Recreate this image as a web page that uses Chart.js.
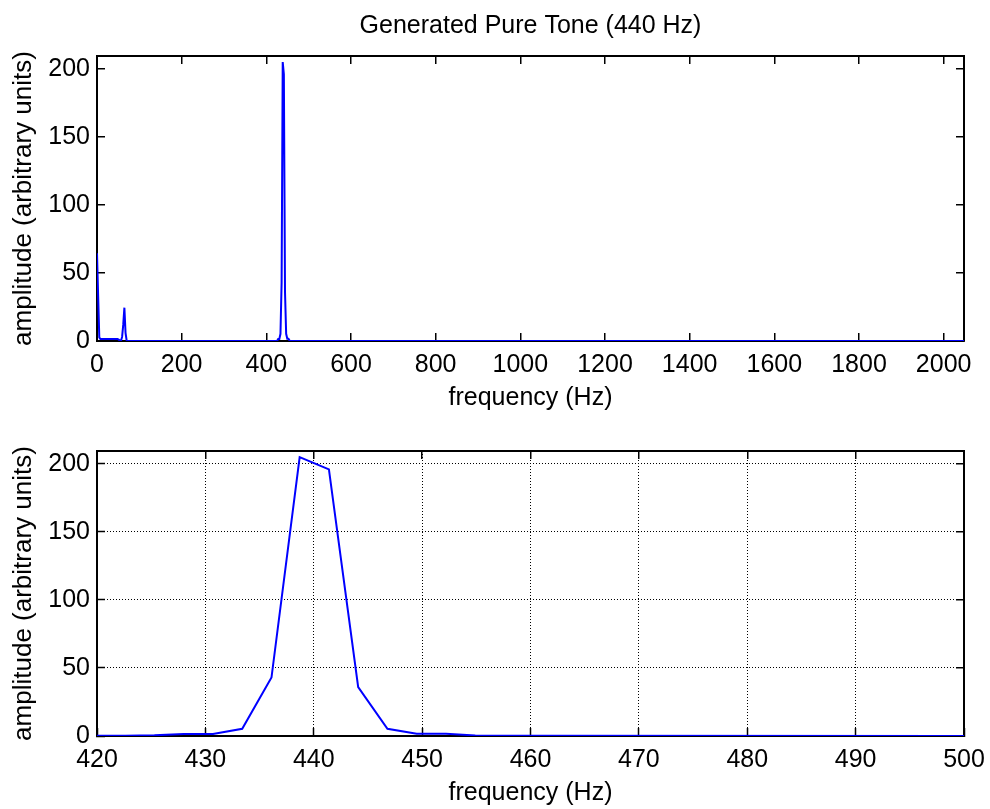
<!DOCTYPE html>
<html>
<head>
<meta charset="utf-8">
<script src="https://cdn.jsdelivr.net/npm/chart.js@4/dist/chart.umd.min.js"></script>
<style>
  html, body { margin: 0; padding: 0; background: #fff; overflow: hidden; }
  #wrap { position: relative; width: 990px; height: 809px; }
  canvas { position: absolute; left: 0; }
  #c1 { top: 0; }
  #c2 { top: 395px; }
</style>
</head>
<body>
<div id="wrap">
  <canvas id="c1" width="990" height="414"></canvas>
  <canvas id="c2" width="990" height="414"></canvas>
</div>
<script>
// ---- Data ----
const chartTitle = 'Generated Pure Tone (440 Hz)';
const xAxisLabel = 'frequency (Hz)';
const yAxisLabel = 'amplitude (arbitrary units)';

// Full spectrum (top panel)
const topFreq = [0, 2.7, 5.4, 8.1, 48.5, 51.2, 53.9, 56.6, 59.3, 62.0, 64.7, 67.4, 70.1, 72.8,
                 425.3, 428.0, 430.7, 433.4, 436.1, 438.7, 441.4, 444.1, 446.8, 449.5, 452.2, 454.9, 457.6, 2048];
const topAmp  = [64.5, 33, 2.7, 1.5, 1.5, 1.0, 0.3, 0.2, 3, 12, 24.5, 6, 0.2, 0,
                 0, 1.5, 1.5, 5.3, 43, 205, 196, 36, 5.3, 1.7, 1.7, 0.3, 0, 0];

// Zoomed spectrum 420-500 Hz (bottom panel)
const botFreq = [417.2, 419.9, 422.6, 425.3, 428.0, 430.7, 433.4, 436.1, 438.7, 441.4,
                 444.1, 446.8, 449.5, 452.2, 454.9, 457.6, 460.3, 500.7];
const botAmp  = [0.1, 0.1, 0.2, 0.5, 1.5, 1.5, 5.3, 43, 205, 196,
                 36, 5.3, 1.7, 1.7, 0.4, 0.2, 0.1, 0];

// Axis ranges / ticks
const topXRange = [0, 2048];   const topXStep = 200;
const botXRange = [420, 500];  const botXStep = 10;
const yRange = [0, 209.5];     const yStep = 50;

// ---- Styling ----
const FONT = { family: '"Liberation Sans", Arial, Helvetica, sans-serif', size: 25 };
const YLABEL_SIZE = 26;
Chart.defaults.color = '#000';
Chart.defaults.font.family = FONT.family;
Chart.defaults.font.size = FONT.size;

const PLOT_LEFT = 97, PLOT_RIGHT_PAD = 26, PLOT_TOP = 56, XAXIS_H = 73;

const titlePlugin = {
  id: 'centerTitle',
  afterDraw(chart, args, opts) {
    if (!opts || !opts.text) return;
    const {ctx, chartArea} = chart;
    ctx.save();
    ctx.font = `${FONT.size}px ${FONT.family}`;
    ctx.fillStyle = '#000';
    ctx.textAlign = 'center';
    ctx.textBaseline = 'middle';
    ctx.fillText(opts.text, (chartArea.left + chartArea.right) / 2, opts.y);
    ctx.restore();
  }
};

function keepSteps(step) {
  return function (s) {
    s.ticks = s.ticks.filter(t => Math.abs(t.value / step - Math.round(t.value / step)) < 1e-6);
  };
}
function noPad(s) { s.paddingLeft = 0; s.paddingRight = 0; s.paddingTop = 0; s.paddingBottom = 0; }

function makeChart(canvasId, freq, amp, xr, xs, withGrid, title) {
  const gridMain = withGrid
    ? { display: true, drawOnChartArea: true, drawTicks: true, tickLength: -8,
        color: '#000', lineWidth: 1, tickWidth: 1.5, tickColor: '#000' }
    : { display: true, drawOnChartArea: false, drawTicks: true, tickLength: -8,
        color: '#000', lineWidth: 1.5, tickColor: '#000' };
  const borderMain = withGrid
    ? { display: true, color: '#000', width: 2, dash: [1, 2] }
    : { display: true, color: '#000', width: 2 };
  const gridSec = { display: true, drawOnChartArea: false, drawTicks: true, tickLength: -8,
                    color: '#000', lineWidth: 1.5 };
  const borderSec = { display: true, color: '#000', width: 2 };

  const xBase = { type: 'linear', min: xr[0], max: xr[1], bounds: 'data', afterBuildTicks: keepSteps(xs) };
  const yBase = { type: 'linear', min: yRange[0], max: yRange[1], bounds: 'data', afterBuildTicks: keepSteps(yStep) };
  const plain = v => String(v);

  return new Chart(document.getElementById(canvasId), {
    type: 'line',
    data: {
      datasets: [{
        data: freq.map((f, i) => ({ x: f, y: amp[i] })),
        borderColor: '#0000ff',
        borderWidth: 2,
        pointRadius: 0,
        tension: 0,
        fill: false,
        xAxisID: 'x', yAxisID: 'y'
      }]
    },
    options: {
      responsive: false,
      animation: false,
      devicePixelRatio: 1,
      layout: { padding: { left: 0, right: PLOT_RIGHT_PAD, top: PLOT_TOP, bottom: 0 } },
      plugins: {
        legend: { display: false },
        tooltip: { enabled: false },
        centerTitle: title ? { text: title, y: 26 } : {}
      },
      scales: {
        x: Object.assign({}, xBase, {
          position: 'bottom',
          grid: gridMain, border: borderMain,
          ticks: { stepSize: xs, includeBounds: false, autoSkip: false, maxRotation: 0,
                   padding: 17, color: '#000', font: { size: FONT.size }, callback: plain },
          title: { display: true, text: xAxisLabel, color: '#000',
                   font: { size: FONT.size }, padding: { top: 0, bottom: 1 } },
          afterFit(s) { s.height = XAXIS_H; noPad(s); }
        }),
        y: Object.assign({}, yBase, {
          position: 'left',
          grid: gridMain, border: borderMain,
          ticks: { stepSize: yStep, includeBounds: false, autoSkip: false, padding: 15, color: '#000',
                   font: { size: FONT.size }, callback: plain },
          title: { display: true, text: yAxisLabel, color: '#000',
                   font: { size: YLABEL_SIZE }, padding: { top: 8, bottom: 0 } },
          afterFit(s) { s.width = PLOT_LEFT; noPad(s); }
        }),
        x2: Object.assign({}, xBase, {
          position: 'top',
          grid: gridSec, border: borderSec,
          ticks: { stepSize: xs, includeBounds: false, display: false },
          afterFit(s) { s.height = 0; noPad(s); }
        }),
        y2: Object.assign({}, yBase, {
          position: 'right',
          grid: gridSec, border: borderSec,
          ticks: { stepSize: yStep, includeBounds: false, display: false },
          afterFit(s) { s.width = 0; noPad(s); }
        })
      }
    },
    plugins: [titlePlugin]
  });
}

makeChart('c1', topFreq, topAmp, topXRange, topXStep, false, chartTitle);
makeChart('c2', botFreq, botAmp, botXRange, botXStep, true, null);
</script>
</body>
</html>
